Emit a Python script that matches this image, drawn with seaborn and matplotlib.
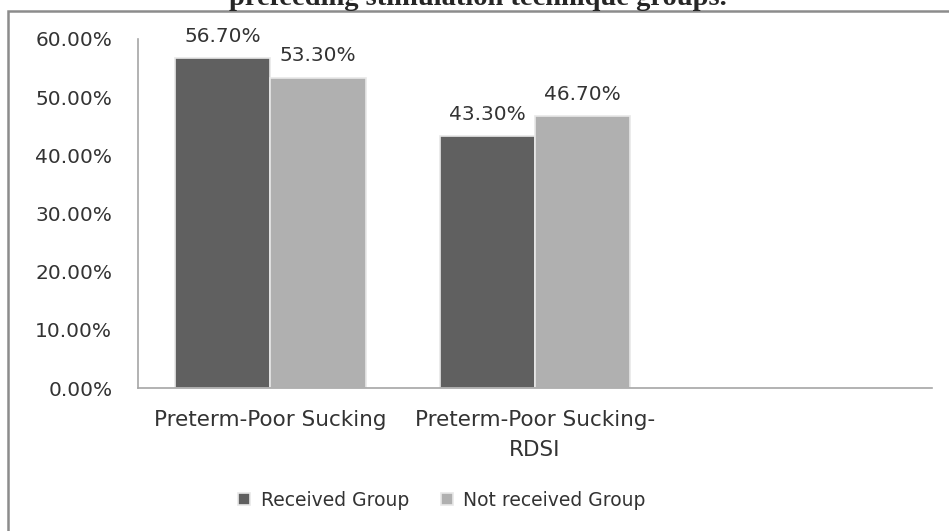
import matplotlib
matplotlib.use("Agg")
import matplotlib.pyplot as plt
from matplotlib.patches import Rectangle
import pandas as pd
import seaborn as sns

categories = ["Preterm-Poor Sucking", "Preterm-Poor Sucking-\nRDSI"]
groups = ["Received Group", "Not received Group"]
received = [56.7, 43.3]
not_received = [53.3, 46.7]
y_ticks = [0, 10, 20, 30, 40, 50, 60]
title_text = "prefeeding stimulation technique groups."

df = pd.DataFrame({
    "category": categories * 2,
    "group": [groups[0]] * len(categories) + [groups[1]] * len(categories),
    "value": received + not_received,
})

sns.set_style("white")
plt.rcParams["font.family"] = ["DejaVu Sans"]

fig = plt.figure(figsize=(9.49, 5.31), dpi=100)
ax = fig.add_axes([138 / 949, 1 - 388 / 531, (932 - 138) / 949, (388 - 39) / 531])

palette = {groups[0]: "#606060", groups[1]: "#b0b0b0"}
sns.barplot(data=df, x="category", y="value", hue="group", order=categories,
            hue_order=groups, palette=palette, width=0.72, saturation=1,
            edgecolor="#e8e8e8", linewidth=1.2, ax=ax)

fs = 14.5
for container in ax.containers:
    ax.bar_label(container, labels=[f"{v:.2f}%" for v in container.datavalues],
                 padding=9, fontsize=fs, color="#333333")

ax.set_xlim(-0.5, 2.5)
ax.set_ylim(0, 60)
ax.set_yticks(y_ticks)
ax.set_yticklabels([f"{t:.2f}%" for t in y_ticks], fontsize=fs, color="#333333")
ax.set_xticks([0, 1])
ax.set_xticklabels(categories, fontsize=15.5, color="#333333", linespacing=1.6)
ax.set_xticks([-0.5, 0.5, 1.5, 2.5], minor=True)
ax.tick_params(axis="x", which="major", length=0, pad=16)
ax.tick_params(axis="x", which="minor", length=5, color="#a6a6a6", direction="out")
ax.tick_params(axis="y", length=0, pad=18.5)
ax.set_xlabel("")
ax.set_ylabel("")
for s in ["top", "right"]:
    ax.spines[s].set_visible(False)
for s in ["left", "bottom"]:
    ax.spines[s].set_color("#a6a6a6")
    ax.spines[s].set_linewidth(1.2)

handles, labels = ax.get_legend_handles_labels()
ax.legend(handles, labels, loc="center", bbox_to_anchor=(442 / 949, 1 - 500 / 531),
          bbox_transform=fig.transFigure, ncol=2, frameon=False, fontsize=13.5,
          handlelength=0.65, handleheight=0.65, columnspacing=1.7, handletextpad=0.55,
          labelcolor="#333333")

# outer chart frame and the cut-off caption above it
fig.patches.append(Rectangle((8 / 949, -0.05), 1.1, 1 - 11 / 531 + 0.05,
                             transform=fig.transFigure, fill=False,
                             edgecolor="#8c8c8c", linewidth=1.8))
fig.text(478 / 949, 1 - 5 / 531, title_text, ha="center", va="baseline",
         fontsize=20.5, fontweight="bold", family="Liberation Serif")

fig.savefig("out.png", dpi=100)
